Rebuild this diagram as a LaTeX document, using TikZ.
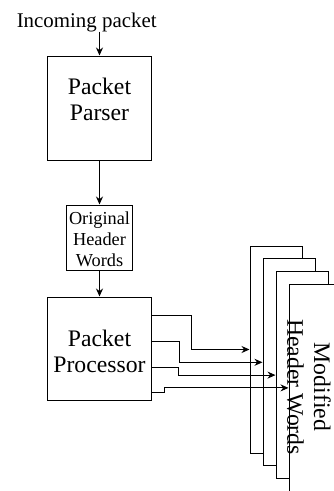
\documentclass[tikz,border=0pt]{standalone}
\usepackage{fontspec}
\setmainfont{Liberation Serif}
\usetikzlibrary{arrows.meta}

\begin{document}
\begin{tikzpicture}[x=1pt,y=-1pt,
		block/.style={draw,line width=1pt,minimum width=103.7pt,minimum height=104pt,inner sep=0pt},
		page/.style={draw,fill=white,line width=1pt,minimum width=52.3pt,minimum height=207pt,inner sep=0pt},
		arr/.style={-{Stealth[length=8pt,width=7pt]},line width=1pt},
		big/.style={font=\fontsize{23.7}{26.7}\selectfont,align=center,inner sep=0pt}]
		\useasboundingbox (0,0) rectangle (334,491);
		\clip (0,0) rectangle (334,491);
		
		\node[anchor=base,font=\fontsize{20.9}{24}\selectfont,inner sep=0pt] (inlabel) at (86.7,27) {Incoming packet};
		\node[block] (parser) at (99.5,108) {};
		\node[big,anchor=north] (parsertext) at ([yshift=-22pt]parser.north) {Packet\\Parser};
		
		\node[draw,line width=1pt,minimum width=65.6pt,minimum height=65pt,inner sep=0pt] (orig) at (99.5,237.5) {};
		\node[anchor=north,font=\fontsize{18.3}{21}\selectfont,align=center,inner sep=0pt] (origtext) at ([yshift=-7pt]orig.north) {Original\\Header\\Words};
		
		\node[block,minimum height=103pt] (proc) at (99.5,348.5) {};
		\node[big,anchor=north] (proctext) at ([yshift=-33pt]proc.north) {Packet\\Processor};
		
		\draw[arr] (parser.north |- inlabel.south) -- (parser.north);
		\draw[arr] (parser.south) -- (orig.north);
		\draw[arr] (orig.south) -- (proc.north);
		
		% stacked output words
		\foreach \i in {1,...,4}
			\node[page] (page\i) at (263.15+13*\i,336.7+12.8*\i) {};
		\node[big,rotate=-90] (modtext) at (309,387) {Modified\\Header Words};
		
		\draw[arr] ([yshift=-18.7pt]proc.north east) -- ++(39.7,0) |- (page1.west);
		\draw[arr] ([yshift=-45pt]proc.north east) -- ++(27.3,0) |- (page2.west);
		\draw[arr] ([yshift=-70.5pt]proc.north east) -- ++(26.7,0) |- (page3.west);
		\draw[arr] ([yshift=-95.5pt]proc.north east) -- ++(13,0) |- (page4.west);
\end{tikzpicture}
\end{document}
